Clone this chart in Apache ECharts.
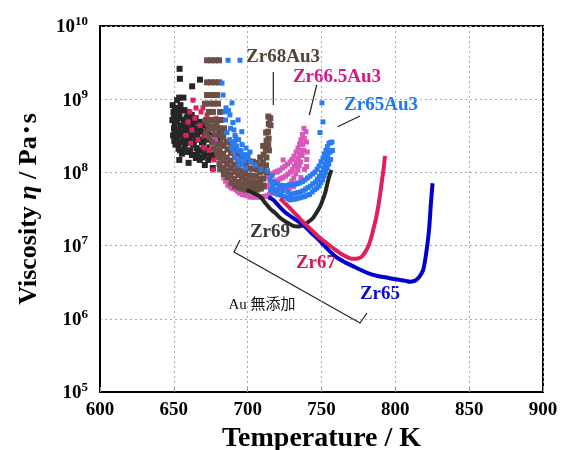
<!DOCTYPE html>
<html>
<head>
<meta charset="utf-8">
<script src="https://cdn.jsdelivr.net/npm/echarts@6/dist/echarts.min.js"></script>
<style>
html, body { margin: 0; padding: 0; background: #fff; }
#chart { width: 565px; height: 450px; }
</style>
</head>
<body>
<div id="chart"></div>
<script>
// temperature ticks (K)
const xTicks = [600, 650, 700, 750, 800, 850, 900];

// Au-free alloys: continuous curves [T (K), viscosity (Pa s)]
const zr65Line = [
    [714, 4.6e7], [717.4, 4.2e7], [721, 3.5e7], [725, 2.9e7], [730.9, 2.37e7], [737.6, 1.91e7],
    [743, 1.5e7], [749, 1.15e7], [755, 8.6e6], [760.3, 6.9e6], [766, 5.9e6], [771.5, 5.2e6],
    [777, 4.6e6], [782.8, 4.1e6], [788, 3.85e6], [794.1, 3.66e6], [799, 3.5e6], [803.2, 3.4e6],
    [807, 3.3e6], [809.9, 3.2e6], [813, 3.3e6], [815.5, 3.6e6], [817.5, 4.1e6], [818.9, 4.7e6],
    [820, 6.0e6], [821.2, 8.7e6], [822.2, 1.25e7], [823.0, 1.8e7], [824.1, 3.8e7], [825.2, 7.1e7]
];
const zr67Line = [
    [722, 4.4e7], [723, 4.2e7], [727, 3.5e7], [730.9, 2.9e7], [734, 2.5e7], [737.6, 2.1e7],
    [741, 1.8e7], [744.4, 1.55e7], [749, 1.27e7], [753.5, 1.08e7], [758, 9.2e6], [762.5, 7.9e6],
    [766, 7.2e6], [769.3, 6.7e6], [772, 6.6e6], [774.9, 6.7e6], [777, 7.0e6], [778.3, 7.5e6],
    [780, 8.4e6], [781.6, 9.7e6], [783.5, 1.25e7], [785, 1.64e7], [786.8, 2.3e7], [788.4, 3.4e7],
    [789.6, 4.9e7], [790.7, 7.1e7], [792, 1.1e8], [793, 1.68e8]
];
const zr69Line = [
    [699.3, 5.8e7], [704, 5.2e7], [708.3, 4.7e7], [712, 3.8e7], [715.1, 3.2e7], [718.5, 2.8e7],
    [721.9, 2.4e7], [726, 2.1e7], [730.9, 1.86e7], [734, 1.82e7], [737.6, 1.9e7], [741, 2.1e7],
    [744.4, 2.4e7], [747, 2.9e7], [749, 3.4e7], [751, 4.3e7], [752.4, 5.2e7], [753.6, 6.5e7],
    [754.6, 7.9e7], [755.7, 9.5e7], [756.8, 1.08e8]
];

// scattered low-temperature data
const zr69Cloud = [
    [649.2, 8.3e8], [649.8, 6.7e8], [649.0, 5.2e8], [650.1, 4.0e8], [649.5, 3.2e8], [650.3, 2.7e8],
    [650.8, 7.6e8], [651.4, 5.6e8], [650.6, 4.4e8], [651.7, 3.5e8], [651.1, 2.4e8],
    [652.2, 9.7e8], [652.8, 7.1e8], [652.0, 4.9e8], [653.0, 3.8e8], [652.5, 2.9e8], [653.2, 2.1e8],
    [653.9, 2.6e9], [654.1, 1.9e9], [653.6, 1.05e9], [654.5, 8.3e8], [653.8, 6.1e8], [654.7, 4.4e8],
    [654.0, 3.2e8], [654.9, 2.6e8], [654.3, 2.0e8], [653.7, 1.48e8],
    [656.5, 1.05e9], [657.2, 7.1e8], [656.8, 5.2e8], [657.5, 4.0e8], [656.9, 2.9e8], [657.3, 2.15e8], [656.2, 3.5e8],
    [659.4, 6.7e8], [659.9, 4.9e8], [659.1, 3.6e8], [660.2, 2.8e8], [659.6, 1.9e8], [660.0, 1.35e8], [658.6, 5.6e8],
    [662.4, 1.5e9], [662.1, 6.1e8], [662.6, 4.4e8], [661.8, 3.2e8], [662.9, 2.4e8], [662.3, 1.73e8], [661.5, 5.3e8],
    [664.8, 5.5e8], [665.3, 4.0e8], [664.6, 2.9e8], [665.5, 2.15e8], [664.9, 1.57e8], [663.8, 3.5e8],
    [667.7, 1.85e9], [667.4, 4.9e8], [668.0, 3.8e8], [667.2, 2.8e8], [668.3, 2.0e8], [667.6, 1.48e8],
    [670.2, 4.4e8], [670.8, 3.2e8], [670.1, 2.4e8], [670.6, 1.73e8], [671.0, 1.26e8], [669.3, 3.6e8],
    [673.0, 3.8e8], [673.5, 2.8e8], [672.8, 2.0e8], [673.3, 1.48e8],
    [675.6, 3.2e8], [676.1, 2.4e8], [675.4, 1.73e8], [676.4, 1.15e8],
    [678.4, 2.8e8], [678.9, 1.9e8], [694.8, 6.3e7], [698.5, 5.9e7],
    [650.0, 6.0e8], [650.6, 3.6e8], [651.9, 6.3e8], [652.3, 3.2e8], [653.3, 5.5e8], [653.1, 2.5e8],
    [655.6, 7.0e8], [655.8, 3.8e8], [655.5, 1.8e8], [658.0, 4.6e8], [658.2, 2.5e8], [661.0, 4.0e8],
    [661.2, 2.0e8], [663.5, 2.6e8], [663.6, 4.9e8], [666.0, 3.3e8], [666.2, 1.8e8], [669.0, 2.6e8],
    [669.2, 1.6e8], [672.0, 2.9e8], [672.2, 1.8e8], [674.5, 2.2e8], [677.0, 1.6e8], [671.5, 5.0e8]
];
const zr67Cloud = [
    [663.0, 9.7e8], [660.9, 6.7e8], [669.7, 7.6e8], [664.3, 5.5e8], [667.7, 4.4e8], [672.5, 6.1e8],
    [671.1, 3.2e8], [666.4, 2.8e8], [674.5, 4.0e8], [675.8, 2.4e8], [677.2, 1.48e8], [662.3, 3.8e8],
    [659.6, 4.9e8], [673.8, 2.0e8], [678.6, 2.8e8], [676.5, 1.08e8], [668.4, 6.7e8], [671.8, 4.9e8],
    [665.0, 7.6e8], [658.2, 3.2e8], [670.3, 2.2e8], [661.5, 2.5e8]
];
const zr65Cloud = [[679.9, 2.9e8], [681.3, 3.4e8], [680.6, 4.0e8], [682.0, 2.5e8]];

// Au-containing alloys
const zr68Au3 = [
    // sparse rows at high viscosity
    [672.5, 3.4e9], [675.2, 3.4e9], [677.9, 3.4e9], [680.6, 3.4e9],
    [672.5, 1.7e9], [675.2, 1.7e9], [677.9, 1.7e9], [680.6, 1.7e9],
    [672.5, 1.14e9], [675.8, 1.14e9], [679.2, 1.14e9],
    [671.1, 8.7e8], [674.5, 8.7e8], [677.2, 8.7e8], [679.9, 8.7e8],
    [673.8, 6.7e8], [676.5, 6.7e8], [681.3, 6.7e8],
    [671.8, 5.2e8], [675.2, 5.2e8], [678.6, 5.2e8], [681.9, 5.2e8],
    [673.8, 4.0e8], [677.2, 4.0e8], [680.6, 4.0e8], [684.0, 4.0e8],
    [672.0, 3.5e8], [674.0, 3.0e8], [676.0, 2.6e8], [678.0, 3.3e8], [680.0, 2.4e8], [673.0, 4.6e8],
    [675.5, 4.2e8], [679.0, 4.6e8], [682.5, 3.6e8], [677.0, 2.1e8], [679.5, 1.8e8],
    // main band
    [681.0, 3.2e8], [681.3, 2.5e8], [680.8, 2.0e8], [681.2, 1.6e8], [680.9, 1.3e8], [681.4, 1.1e8],
    [683.5, 3.0e8], [683.8, 2.3e8], [683.3, 1.8e8], [683.7, 1.45e8], [683.4, 1.15e8], [683.9, 9.5e7],
    [686.0, 2.6e8], [686.3, 2.05e8], [685.8, 1.6e8], [686.2, 1.3e8], [685.9, 1.05e8], [686.4, 8.6e7],
    [688.5, 2.35e8], [688.8, 1.85e8], [688.3, 1.45e8], [688.7, 1.15e8], [688.4, 9.2e7], [688.9, 7.2e7],
    [691.0, 2.05e8], [691.3, 1.6e8], [690.8, 1.28e8], [691.2, 1.02e8], [690.9, 8.2e7], [691.4, 6.5e7],
    [693.5, 1.8e8], [693.8, 1.43e8], [693.3, 1.15e8], [693.7, 9.2e7], [693.4, 7.4e7], [693.9, 6.2e7],
    [696.0, 1.65e8], [696.3, 1.3e8], [695.8, 1.04e8], [696.2, 8.4e7], [695.9, 6.9e7], [696.4, 6.0e7],
    [698.5, 1.55e8], [698.8, 1.22e8], [698.3, 9.8e7], [698.7, 7.9e7], [698.4, 6.6e7], [698.9, 5.8e7],
    [701.0, 1.42e8], [701.3, 1.13e8], [700.8, 9.1e7], [701.2, 7.4e7], [700.9, 6.3e7], [701.4, 5.7e7],
    [703.5, 1.4e8], [703.8, 1.12e8], [703.3, 9.0e7], [703.7, 7.3e7], [703.4, 6.3e7], [703.9, 5.7e7],
    [706.0, 1.35e8], [706.3, 1.1e8], [705.8, 8.9e7], [706.2, 7.2e7], [705.9, 6.4e7], [706.4, 5.8e7],
    [708.5, 1.6e8], [708.8, 1.25e8], [708.3, 1.0e8], [708.7, 8.0e7], [708.4, 6.8e7], [708.9, 6.0e7],
    [710.5, 2.3e8], [710.8, 1.75e8], [710.3, 1.35e8], [710.7, 1.05e8], [710.4, 8.2e7], [710.9, 6.6e7],
    [712.5, 3.5e8], [712.8, 2.7e8], [712.3, 2.1e8], [712.7, 1.6e8], [712.4, 1.25e8], [712.9, 1.0e8],
    [714.0, 5.8e8], [714.3, 4.6e8], [713.8, 3.6e8], [714.2, 2.9e8], [713.9, 2.4e8], [714.4, 2.0e8],
    [715.3, 5.5e8], [715.5, 4.4e8]
];
const zr665Au3 = [
    [675.8, 4.9e8], [676.2, 3.8e8], [675.6, 2.9e8], [676.0, 2.3e8],
    [678.6, 5.5e8], [678.9, 4.0e8], [678.4, 2.8e8], [678.8, 2.0e8],
    [681.3, 1.9e8], [681.6, 1.39e8],
    [684.0, 1.57e8], [684.3, 1.15e8], [683.8, 8.4e7],
    [686.7, 1.26e8], [687.0, 9.2e7], [686.5, 6.7e7],
    [689.4, 1.08e8], [689.7, 7.9e7], [689.2, 6.1e7],
    [692.1, 1.01e8], [692.4, 7.4e7], [691.9, 5.8e7],
    [694.8, 9.2e7], [695.1, 6.7e7], [694.6, 5.2e7],
    [698.2, 8.7e7], [698.5, 6.3e7], [698.0, 4.9e7],
    [701.6, 8.4e7], [701.9, 6.1e7], [701.4, 4.6e7],
    [705.0, 7.9e7], [705.3, 5.9e7], [704.8, 4.6e7],
    [708.3, 8.2e7], [708.6, 6.1e7], [708.1, 4.6e7],
    [711.7, 8.4e7], [712.0, 6.3e7], [711.5, 4.7e7],
    [715.1, 9.2e7], [715.4, 6.9e7], [714.9, 5.0e7],
    [718.5, 1.01e8], [718.8, 7.6e7], [718.3, 5.4e7],
    [721.9, 1.08e8], [722.2, 8.2e7], [721.7, 5.8e7],
    [725.3, 1.22e8], [725.6, 8.9e7], [725.1, 6.1e7],
    [728.7, 1.39e8], [729.0, 1.01e8], [728.5, 6.9e7],
    [731.4, 1.66e8], [731.7, 1.22e8], [731.2, 8.4e7],
    [734.1, 2.15e8], [734.4, 1.57e8], [733.9, 1.08e8],
    [736.1, 2.8e8], [736.4, 2.0e8], [735.9, 1.39e8],
    [738.1, 4.0e8], [738.4, 2.9e8], [737.9, 2.0e8],
    [739.5, 3.6e8], [739.8, 2.6e8],
    [724.0, 1.48e8], [719.9, 1.01e8],
    [685.3, 1.35e8], [685.5, 1.0e8], [685.0, 7.6e7],
    [688.0, 1.15e8], [688.3, 8.5e7], [688.1, 6.4e7],
    [690.8, 1.05e8], [691.0, 7.7e7], [690.5, 6.0e7],
    [693.4, 9.6e7], [693.6, 7.0e7], [693.2, 5.5e7],
    [696.5, 9.0e7], [696.7, 6.5e7], [696.3, 5.0e7],
    [700.0, 8.5e7], [700.2, 6.2e7], [699.8, 4.8e7],
    [703.3, 8.1e7], [703.6, 6.0e7], [703.1, 4.6e7],
    [706.6, 8.0e7], [706.9, 6.0e7], [706.4, 4.6e7],
    [710.0, 8.3e7], [710.3, 6.2e7], [709.8, 4.6e7],
    [713.4, 8.8e7], [713.7, 6.6e7], [713.2, 4.8e7],
    [716.8, 9.6e7], [717.1, 7.2e7], [716.6, 5.2e7],
    [720.2, 1.04e8], [720.5, 7.9e7], [720.0, 5.6e7],
    [723.6, 1.15e8], [723.9, 8.5e7], [723.4, 6.0e7],
    [727.0, 1.3e8], [727.3, 9.5e7], [726.8, 6.5e7],
    [730.0, 1.5e8], [730.3, 1.1e8], [729.8, 7.6e7],
    [732.8, 1.9e8], [733.1, 1.4e8], [732.6, 9.6e7],
    [735.1, 2.45e8], [735.4, 1.8e8], [734.9, 1.23e8],
    [737.1, 3.3e8], [737.4, 2.4e8], [736.9, 1.7e8],
    [728.2, 6.0e7], [731.0, 6.4e7], [733.5, 7.2e7], [736.0, 8.5e7], [738.5, 1.1e8],
    [740.0, 1.5e8], [740.3, 1.9e8], [739.9, 1.2e8]
];
const zr65Au3 = [
    [686.7, 3.4e9], [694.8, 3.4e9], [682.6, 1.66e9], [683.3, 1.14e9], [689.4, 8.9e8], [685.3, 7.6e8],
    [684.6, 6.7e8], [685.0, 5.2e8],
    [688.0, 6.1e8], [688.4, 4.0e8], [687.8, 2.8e8],
    [690.7, 3.8e8], [691.1, 2.6e8], [690.5, 1.9e8],
    [693.5, 5.2e8], [693.9, 2.8e8], [693.3, 2.0e8], [693.7, 1.48e8],
    [696.2, 2.4e8], [696.6, 1.73e8], [696.0, 1.26e8],
    [698.9, 2.15e8], [699.3, 1.57e8], [698.7, 1.15e8],
    [701.6, 1.9e8], [702.0, 1.39e8],
    [705.0, 1.26e8], [709.0, 1.1e8], [713.5, 1.05e8], [716.5, 9.0e7],
    [715.1, 7.9e7], [715.5, 5.8e7],
    [718.5, 7.2e7], [718.9, 5.2e7],
    [721.9, 6.7e7], [722.3, 4.9e7],
    [725.3, 6.5e7], [725.7, 4.6e7],
    [728.7, 6.7e7], [729.1, 5.0e7], [728.5, 4.2e7],
    [732.0, 6.9e7], [732.4, 5.2e7], [731.8, 4.3e7],
    [735.4, 7.2e7], [735.8, 5.4e7], [735.2, 4.5e7],
    [738.8, 7.9e7], [739.2, 5.9e7], [738.6, 4.7e7],
    [742.2, 8.9e7], [742.6, 6.5e7], [742.0, 5.0e7],
    [745.6, 1.01e8], [746.0, 7.4e7], [745.4, 5.8e7],
    [748.3, 1.22e8], [748.7, 8.9e7], [748.1, 6.5e7],
    [751.0, 1.57e8], [751.4, 1.15e8], [750.8, 7.9e7],
    [753.0, 2.0e8], [753.4, 1.48e8], [752.8, 1.01e8],
    [755.1, 2.5e8], [755.5, 1.9e8], [754.9, 1.3e8],
    [757.1, 2.6e8], [757.4, 2.0e8],
    [750.3, 8.9e8], [751.0, 4.9e8], [749.0, 3.5e8], [691.4, 3.2e8],
    [716.8, 7.5e7], [717.1, 5.5e7], [717.0, 6.4e7],
    [720.2, 7.0e7], [720.5, 5.0e7], [720.3, 5.9e7],
    [723.6, 6.6e7], [723.9, 4.7e7], [723.8, 5.6e7],
    [727.0, 6.6e7], [727.3, 4.4e7], [727.2, 5.4e7],
    [730.4, 6.8e7], [730.6, 5.1e7], [730.2, 4.3e7],
    [733.7, 7.0e7], [734.0, 5.3e7], [733.5, 4.4e7],
    [737.1, 7.5e7], [737.4, 5.6e7], [736.9, 4.6e7],
    [740.5, 8.4e7], [740.8, 6.2e7], [740.3, 4.9e7],
    [743.9, 9.5e7], [744.2, 7.0e7], [743.7, 5.4e7],
    [747.0, 1.1e8], [747.3, 8.1e7], [746.8, 6.1e7],
    [749.7, 1.4e8], [750.0, 1.0e8], [749.5, 7.2e7],
    [752.0, 1.78e8], [752.3, 1.3e8], [751.8, 9.0e7],
    [754.0, 2.25e8], [754.3, 1.7e8], [753.8, 1.15e8],
    [756.1, 2.55e8], [756.4, 1.95e8], [756.2, 1.5e8],
    [686.0, 3.5e8], [689.0, 2.2e8], [692.0, 3.0e8], [695.0, 2.0e8], [697.5, 1.45e8],
    [700.3, 1.7e8], [690.0, 4.8e8], [687.0, 7.0e8], [696.0, 3.6e8],
    [689.5, 2.6e8], [692.5, 2.3e8], [695.5, 1.9e8], [698.0, 1.75e8],
    [691.5, 1.6e8], [694.0, 1.25e8]
];

const serif = '"Liberation Serif", "Times New Roman", serif';
const cjk = '"Liberation Serif", "Noto Sans CJK JP", serif';

const chart = echarts.init(document.getElementById('chart'));

function cloud(name, data, color, size) {
    return {
        name: name,
        type: 'scatter',
        data: data,
        symbol: 'rect',
        symbolSize: size || 6,
        itemStyle: { color: color, opacity: 1 },
        silent: true
    };
}

function curve(name, data, color, width) {
    return {
        name: name,
        type: 'line',
        data: data,
        showSymbol: false,
        smooth: 0.3,
        lineStyle: { color: color, width: width },
        silent: true
    };
}

function label(text, x, y, color, size, weight) {
    return {
        type: 'text',
        x: x, y: y,
        style: {
            text: text,
            fill: color,
            font: (weight || 'bold') + ' ' + size + 'px ' + (weight === 'normal' ? cjk : serif),
            align: 'center',
            verticalAlign: 'middle'
        }
    };
}

function leader(points) {
    return {
        type: 'polyline',
        shape: { points: points },
        style: { stroke: '#222', lineWidth: 1.2, fill: null }
    };
}

const options = {
    animation: false,
    backgroundColor: '#fff',
    grid: {
        left: 100, right: 22, top: 26, bottom: 58,
        show: true, borderColor: '#000', borderWidth: 2,
        outerBoundsMode: 'none'
    },
    xAxis: {
        type: 'value',
        min: xTicks[0],
        max: xTicks[xTicks.length - 1],
        interval: 50,
        name: 'Temperature / K',
        nameLocation: 'middle',
        nameGap: 27,
        nameTextStyle: { fontFamily: serif, fontWeight: 'bold', fontSize: 28, color: '#000' },
        axisLine: { show: true, lineStyle: { color: '#000', width: 2 } },
        axisTick: { show: true, inside: true, length: 5, lineStyle: { color: '#999' } },
        axisLabel: { margin: 9, color: '#000', fontFamily: serif, fontWeight: 'bold', fontSize: 19 },
        splitLine: { show: true, lineStyle: { color: '#aaa', type: [2, 3], width: 1 } }
    },
    yAxis: {
        type: 'log',
        logBase: 10,
        min: 1e5,
        max: 1e10,
        name: '{a|Viscosity }{i|η}{a| / Pa･s}',
        nameLocation: 'middle',
        nameRotate: 90,
        nameGap: 58,
        nameTextStyle: {
            rich: {
                a: { fontFamily: cjk, fontWeight: 'bold', fontSize: 26, color: '#000' },
                i: { fontFamily: serif, fontWeight: 'bold', fontStyle: 'italic', fontSize: 26, color: '#000' }
            }
        },
        axisLine: { show: true, lineStyle: { color: '#000', width: 2 } },
        axisTick: { show: false },
        axisLabel: {
            margin: 12,
            showMinLabel: true,
            showMaxLabel: true,
            formatter: (v) => '{b|10}{s|' + Math.round(Math.log10(v)) + '}',
            rich: {
                b: { fontFamily: serif, fontWeight: 'bold', fontSize: 19, color: '#000', lineHeight: 22, verticalAlign: 'bottom' },
                s: { fontFamily: serif, fontWeight: 'bold', fontSize: 13, color: '#000', lineHeight: 13, verticalAlign: 'top' }
            }
        },
        splitLine: { show: true, lineStyle: { color: '#aaa', type: [2, 3], width: 1 } }
    },
    series: [
        cloud('Zr69 low T', zr69Cloud, '#262626'),
        cloud('Zr67 low T', zr67Cloud, '#e0205a', 5),
        cloud('Zr65 low T', zr65Cloud, '#0000cc', 5),
        cloud('Zr66.5Au3', zr665Au3, '#d957b8', 5),
        cloud('Zr68Au3', zr68Au3, '#6b4f45'),
        cloud('Zr65Au3', zr65Au3, '#2a7bf0', 5),
        curve('Zr69', zr69Line, '#262626', 4),
        curve('Zr65', zr65Line, '#0000cc', 4),
        curve('Zr67', zr67Line, '#e0205a', 4)
    ],
    graphic: [
        label('Zr68Au3', 283, 57, '#4d4533', 19),
        label('Zr66.5Au3', 337, 77, '#d41a8a', 19),
        label('Zr65Au3', 381, 105, '#1f78f0', 19),
        label('Zr69', 270, 232, '#3a3a3a', 19),
        label('Zr67', 316, 263, '#d41a5a', 19),
        label('Zr65', 380, 294, '#0a0ad0', 19),
        label('Au 無添加', 262, 305, '#111', 15, 'normal'),
        leader([[273.3, 72], [273.3, 105]]),
        leader([[316.7, 85], [309.3, 115]]),
        leader([[360, 116], [337.7, 126.7]]),
        leader([[240, 240], [234, 252], [360, 323], [367, 313]])
    ]
};

chart.setOption(options);
</script>
</body>
</html>
